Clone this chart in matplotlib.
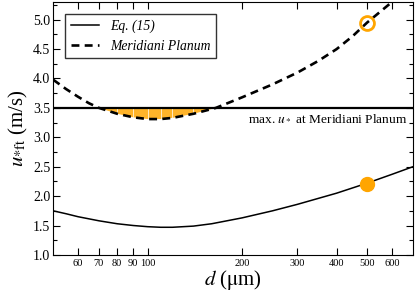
import numpy as np
import matplotlib
matplotlib.use('Agg')
import matplotlib.pyplot as plt
from matplotlib.ticker import FixedLocator, NullFormatter, MultipleLocator

plt.rcParams['font.family'] = ['Liberation Serif', 'DejaVu Serif']
plt.rcParams['mathtext.fontset'] = 'stix'

# grain diameter (um) and read-off threshold friction speeds (m/s)
d_eq15 = [50, 55, 60, 70, 80, 90, 100, 110, 120, 140, 160, 200, 250, 300, 400, 500, 600, 700]
u_eq15 = [1.75, 1.70, 1.65, 1.58, 1.53, 1.50, 1.48, 1.47, 1.47, 1.49, 1.53, 1.63, 1.75, 1.86, 2.05, 2.22, 2.37, 2.50]

d_mp = [50, 55, 60, 65, 70, 80, 90, 100, 110, 120, 140, 165, 200, 250, 300, 350, 400, 450, 500, 600, 700]
u_mp = [3.98, 3.82, 3.69, 3.58, 3.50, 3.40, 3.34, 3.31, 3.31, 3.33, 3.40, 3.50, 3.68, 3.90, 4.10, 4.30, 4.50, 4.72, 4.95, 5.30, 5.62]

u_max = 3.5

d_pt = 500
u_pt_open = 4.95
u_pt_fill = 2.2

xticks = [60, 70, 80, 90, 100, 200, 300, 400, 500, 600]
xlabels = ['60', '70', '80', '90', '100', '200', '300', '400', '500', '600']

fig = plt.figure(figsize=(4.15, 2.91), dpi=100)
ax = fig.add_axes([0.128, 0.124, 0.867, 0.869])

# shaded region where Meridiani curve is below the max wind speed
dm = np.array(d_mp)
um = np.array(u_mp)
below = um <= u_max
ax.fill_between(dm, um, u_max, where=below, facecolor='#ffb42a',
                edgecolor='none', zorder=1)
# thin white seams inside the shading
inner = below & (um < u_max)
ax.vlines(dm[inner], um[inner], u_max, color='white', lw=0.5, zorder=2)

ax.axhline(u_max, color='black', lw=1.6, zorder=3)
ax.plot(d_eq15, u_eq15, color='black', lw=1.1, label='Eq. (15)', zorder=4)
ax.plot(d_mp, u_mp, color='black', lw=1.9, ls=(0, (3.0, 2.0)), label='Meridiani Planum', zorder=4)

ax.plot(d_pt, u_pt_open, 'o', ms=10, mfc='none', mec='orange', mew=2, zorder=5)
ax.plot(d_pt, u_pt_fill, 'o', ms=10, mfc='orange', mec='orange', zorder=5)

ax.text(670, 3.41, r'max. $u_*$ at Meridiani Planum', ha='right', va='top', fontsize=9.6)

ax.set_xscale('log')
ax.set_xlim(50, 700)
ax.set_ylim(1.0, 5.3)
ax.xaxis.set_major_locator(FixedLocator(xticks))
ax.set_xticklabels(xlabels)
ax.xaxis.set_minor_locator(FixedLocator([]))
ax.xaxis.set_minor_formatter(NullFormatter())
ax.yaxis.set_major_locator(MultipleLocator(0.5))
ax.yaxis.set_minor_locator(MultipleLocator(0.25))
ax.yaxis.set_major_formatter(plt.FuncFormatter(lambda v, p: '%.1f' % v))

ax.tick_params(axis='both', which='both', direction='in', top=True, right=True)
ax.tick_params(axis='both', which='major', length=5, width=0.8)
ax.tick_params(axis='y', which='minor', length=3, width=0.8)
ax.tick_params(axis='x', labelsize=7.5, pad=3)
ax.tick_params(axis='y', labelsize=10, pad=2)

ax.set_xlabel(r'$d$ ($\mathrm{\mu}$m)', fontsize=15, labelpad=0)
ax.set_ylabel(r'$u_{*\mathrm{ft}}$ (m/s)', fontsize=15, labelpad=2)

leg = ax.legend(loc='upper left', frameon=True, fancybox=False,
                edgecolor='black', borderaxespad=0.9, handlelength=2.1,
                prop={'style': 'italic', 'size': 9.8})
leg.get_frame().set_linewidth(1.0)

fig.savefig('out.png', dpi=100)
